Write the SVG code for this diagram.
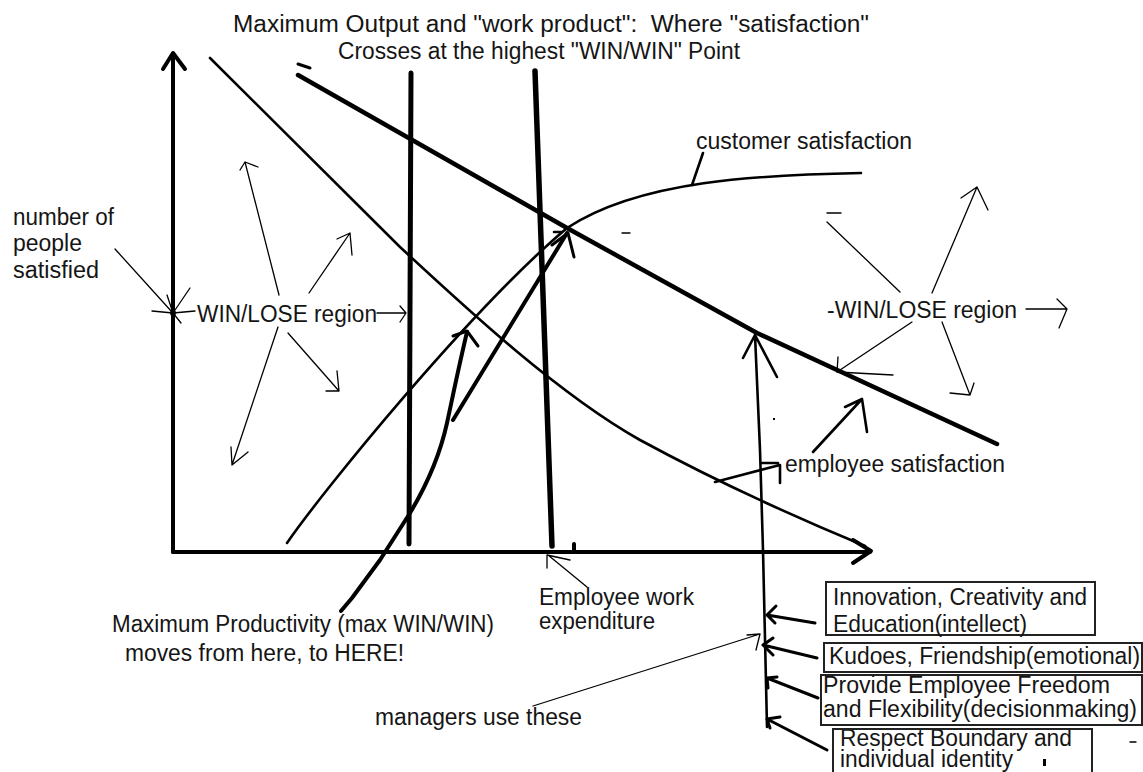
<svg xmlns="http://www.w3.org/2000/svg" width="1143" height="772" viewBox="0 0 1143 772">
<style>
.t{font-family:"Liberation Sans",Arial,sans-serif;font-size:23px;fill:#151515}
.ln{fill:none;stroke:#000;stroke-linecap:round;stroke-linejoin:round}
.th{stroke-width:1.3}
.md{stroke-width:2.6}
.m3{stroke-width:3}
.tk{stroke-width:4.5}
.ax{stroke-width:4}
.box{fill:none;stroke:#222;stroke-width:2}
</style>
<defs>
<clipPath id="c3"><rect x="821" y="676" width="322" height="49"/></clipPath>
<clipPath id="c4"><rect x="833" y="730" width="259" height="50"/></clipPath>
</defs>
<rect width="1143" height="772" fill="#fff"/>

<g id="axes" class="ln ax">
<path d="M173,552 V54"/>
<path d="M163,69 L173,53 L185,69"/>
<path d="M173,552 H870"/>
<path d="M853,540 L871,551 L853,563"/>
</g>

<g id="curves" class="ln">
<path class="md" d="M210,58 L400,247 C470,312 560,395 640,440 C710,478 790,515 865,546"/>
<path class="md" d="M287,543 C322,492 470,310 567,228 C640,180 760,175 861,173"/>
<path class="tk" d="M298,75 L567,228 L757,333 L997,444"/>
<path stroke-width="5" d="M411,73 L409,544"/>
<path stroke-width="5.5" d="M535,71 L552,546"/>
<path stroke-width="3" d="M298,64 L310,68"/>
<path stroke-width="4" d="M574,544 V552"/>
</g>

<g id="connectors" class="ln">
<path stroke-width="4" d="M341,611 L352,598 L380,560 L410,513 C425,488 440,455 447,423 C452,400 458,370 467,332"/>
<path stroke-width="3" d="M453,336 L467,331 L478,346"/>
<path stroke-width="4" d="M453,420 L567,233"/>
<path stroke-width="3" d="M552,245 L568,233 L574,257"/>
<path class="md" d="M554,232 H561"/>
<path class="th" d="M587,587 L548,555 M547,568 L547,555 L570,560"/>
<path class="th" d="M115,249 L172,312 M152,311 L173,313 M167,295 L173,313"/>
<path class="th" d="M195,311 L173,313 M190,288 L173,313 L181,323"/>
<circle cx="173" cy="313" r="3" fill="#000" stroke="none"/>
<path class="th" d="M279,295 L245,162 M240,170 L245,162 L258,167"/>
<path class="th" d="M309,293 L350,233 M337,239 L350,233 L352,255"/>
<path class="th" d="M377,313 L406,313 M400,306 L406,313 L400,322"/>
<path class="th" d="M288,333 L339,391 M326,391 L339,391 L337,371"/>
<path class="th" d="M278,327 L232,465 M231,447 L232,465 L248,452"/>
<path class="th" d="M900,292 L827,222 M827,213 H841"/>
<path class="th" d="M932,293 L977,187 M961,198 L977,187 L988,210"/>
<path class="th" d="M1026,309 L1067,309 M1057,299 L1067,309 L1059,328"/>
<path class="th" d="M912,322 L837,372 M838,357 L837,372 L893,375"/>
<path class="th" d="M942,322 L970,395 M950,393 L970,395 L974,383"/>
<path class="md" d="M813,452 L862,399 M845,407 L862,399 L867,432"/>
<path class="md" d="M715,482 L780,465 V483 M762,463 H778"/>
<path class="md" d="M692,185 L703,153"/>
<path class="md" d="M767,727 L763,550 L760,450 L755,335 M743,358 L755,335 L777,377"/>
<path class="m3" d="M815,623 L767,615 M776,606 L767,615 L775,623"/>
<path class="m3" d="M817,658 L763,645 M773,638 L763,645 L773,655"/>
<path class="m3" d="M818,698 L767,678 M777,677 L767,678 L768,688"/>
<path class="m3" d="M827,750 L767,719 M780,717 L767,719 L770,728"/>
<path class="th" d="M533,706 L760,634 M747,635 L760,634 L756,650"/>
<path class="th" d="M622,233 H630"/>
<path class="th" d="M1130,742 H1136"/>
<rect x="773" y="418" width="2" height="2" fill="#000" stroke="none"/>
<rect x="1043" y="759" width="3" height="7" fill="#000" stroke="none"/>
</g>

<g id="title">
<text class="t" x="233" y="32" font-size="24" textLength="636" lengthAdjust="spacingAndGlyphs" xml:space="preserve">Maximum Output and "work product":  Where "satisfaction"</text>
<text class="t" x="338" y="59" font-size="24" textLength="402" lengthAdjust="spacingAndGlyphs">Crosses at the highest "WIN/WIN" Point</text>
</g>
<g id="label-customer"><text class="t" x="696" y="149" textLength="216" lengthAdjust="spacingAndGlyphs">customer satisfaction</text></g>
<g id="label-people">
<text class="t" x="13" y="225" textLength="101" lengthAdjust="spacingAndGlyphs">number of</text>
<text class="t" x="13" y="251" textLength="69" lengthAdjust="spacingAndGlyphs">people</text>
<text class="t" x="13" y="278" textLength="86" lengthAdjust="spacingAndGlyphs">satisfied</text>
</g>
<g id="label-winlose-left"><text class="t" x="197" y="322" textLength="180" lengthAdjust="spacingAndGlyphs">WIN/LOSE region</text></g>
<g id="label-winlose-right"><text class="t" x="827" y="318" textLength="190" lengthAdjust="spacingAndGlyphs">-WIN/LOSE region</text></g>
<g id="label-employee"><text class="t" x="785" y="472" textLength="220" lengthAdjust="spacingAndGlyphs">employee satisfaction</text></g>
<g id="label-expenditure">
<text class="t" x="539" y="605" textLength="155" lengthAdjust="spacingAndGlyphs">Employee work</text>
<text class="t" x="539" y="629" textLength="116" lengthAdjust="spacingAndGlyphs">expenditure</text>
</g>
<g id="label-productivity">
<text class="t" x="112" y="632" textLength="382" lengthAdjust="spacingAndGlyphs">Maximum Productivity (max WIN/WIN)</text>
<text class="t" x="125" y="661" textLength="279" lengthAdjust="spacingAndGlyphs">moves from here, to HERE!</text>
</g>
<g id="label-managers"><text class="t" x="375" y="725" textLength="207" lengthAdjust="spacingAndGlyphs">managers use these</text></g>

<g id="box-innovation">
<rect class="box" x="826" y="582" width="269" height="53"/>
<text class="t" x="833" y="605" textLength="254" lengthAdjust="spacingAndGlyphs">Innovation, Creativity and</text>
<text class="t" x="833" y="632" textLength="194" lengthAdjust="spacingAndGlyphs">Education(intellect)</text>
</g>
<g id="box-kudoes">
<rect class="box" x="824" y="643" width="318" height="29"/>
<text class="t" x="829" y="664" textLength="311" lengthAdjust="spacingAndGlyphs">Kudoes, Friendship(emotional)</text>
</g>
<g id="box-freedom">
<g clip-path="url(#c3)">
<text class="t" x="823" y="693" textLength="287" lengthAdjust="spacingAndGlyphs">Provide Employee Freedom</text>
<text class="t" x="823" y="717" textLength="314" lengthAdjust="spacingAndGlyphs">and Flexibility(decisionmaking)</text>
</g>
<rect class="box" x="821" y="675" width="321" height="50"/>
</g>
<g id="box-respect">
<g clip-path="url(#c4)">
<text class="t" x="840" y="746" font-size="21" textLength="232" lengthAdjust="spacingAndGlyphs">Respect Boundary and</text>
<text class="t" x="840" y="767" font-size="21" textLength="173" lengthAdjust="spacingAndGlyphs">individual identity</text>
</g>
<rect class="box" x="833" y="729" width="259" height="50"/>
</g>
</svg>
